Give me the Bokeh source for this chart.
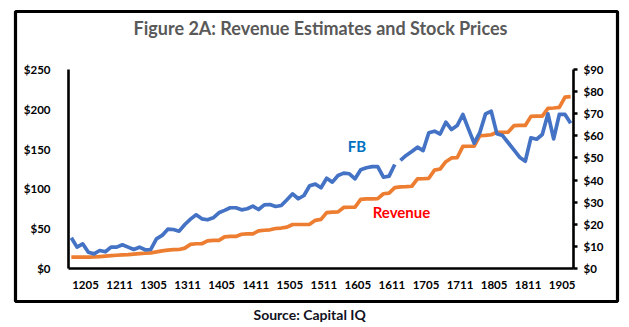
from bokeh.plotting import figure
from bokeh.models import (Range1d, LinearAxis, FixedTicker, NumeralTickFormatter,
                          Label, Title)
from bokeh.embed import file_html
from bokeh.resources import INLINE

# ---------------- data ----------------
tick_labels = ["1205", "1211", "1305", "1311", "1405", "1411", "1505", "1511",
               "1605", "1611", "1705", "1711", "1805", "1811", "1905"]

fb_price = [38.6, 26.8, 31.0, 20.5, 18.4, 22.6, 21.0, 26.8, 26.8, 29.8,
            26.8, 23.9, 26.8, 23.5, 23.9, 37.3, 41.5, 49.4, 49.0, 46.9,
            55.3, 62.0, 67.4, 62.4, 61.2, 63.7, 70.0, 73.0, 76.3, 76.3,
            73.7, 75.0, 78.3, 74.1, 80.0, 80.4, 77.9, 79.1, 86.3, 93.8,
            87.6, 91.7, 104.0, 106.0, 101.5, 113.4, 108.5, 116.8, 119.8, 119.0,
            112.7, 124.0, 126.5, 128.0, 128.0, 114.7, 116.0, 130.7, 135.7, 142.0,
            147.0, 152.4, 148.2, 170.5, 172.5, 169.0, 183.8, 174.6, 179.6, 193.5,
            175.0, 157.4, 171.0, 194.3, 197.6, 169.2, 167.0, 158.0, 149.0, 139.8,
            134.8, 164.2, 162.4, 168.3, 194.3, 162.9, 193.5, 193.5, 182.5]

revenue_est = [5.1, 5.1, 5.1, 5.1, 5.2, 5.4, 5.6, 5.8, 6.0, 6.2,
               6.3, 6.5, 6.7, 6.9, 7.1, 7.5, 8.0, 8.3, 8.5, 8.6,
               9.2, 10.9, 11.2, 11.2, 12.5, 12.7, 12.7, 14.3, 14.5, 14.5,
               15.5, 15.7, 15.7, 17.0, 17.3, 17.5, 18.1, 18.3, 18.7, 19.9,
               19.9, 19.9, 20.0, 21.8, 22.2, 25.3, 25.5, 25.6, 27.6, 27.7,
               27.8, 31.3, 31.5, 31.5, 31.6, 33.8, 34.1, 36.6, 36.9, 37.0,
               37.2, 40.5, 40.6, 40.8, 44.5, 45.0, 48.3, 50.0, 50.1, 55.2,
               55.3, 55.3, 60.1, 60.2, 60.5, 61.6, 61.6, 61.7, 64.6, 64.7,
               64.7, 68.8, 68.9, 68.9, 72.4, 72.6, 72.9, 77.5, 77.7]

fb_gap_after = 57   # the FB line is broken between these two points

# ---------------- layout constants (pixels) ----------------
W, H = 629, 327
BOX_L, BOX_R, BOX_T, BOX_B = 15, 617, 11, 301     # outer black frame
PL, PR, PT, PB = 68, 573, 69, 268                 # chart axes area
N = len(fb_price)
XD = (-0.5, N - 0.5)         # data x span over PL..PR
YLD = (0, 250)               # left axis
YRD = (0, 90)                # right axis

def lin(v, a0, a1, b0, b1):
    return b0 + (v - a0) / (a1 - a0) * (b1 - b0)

def px_x(px):
    return lin(px, PL, PR, XD[0], XD[1])

def px_yl(py):
    return lin(py, PB, PT, YLD[0], YLD[1])

def px_yr(py):
    return lin(py, PB, PT, YRD[0], YRD[1])

FONT = "Lato"

p = figure(width=W, height=H, output_backend="svg", toolbar_location=None,
           x_range=Range1d(px_x(BOX_L), px_x(BOX_R)),
           y_range=Range1d(px_yl(BOX_B), px_yl(BOX_T)),
           min_border_left=BOX_L, min_border_right=W - BOX_R,
           min_border_top=BOX_T, min_border_bottom=H - BOX_B)
p.extra_y_ranges = {"rev": Range1d(px_yr(BOX_B), px_yr(BOX_T))}
p.outline_line_color = "black"
p.outline_line_width = 3.2
p.xgrid.visible = False
p.ygrid.visible = False
p.background_fill_color = "white"
p.border_fill_color = "white"

x = list(range(N))

# revenue line (right axis)
p.line(x, revenue_est, y_range_name="rev", line_color="#ED7D31",
       line_width=3.7, line_join="round")
# FB price line (left axis), drawn in two parts (break in the series)
p.line(x[:fb_gap_after + 1], fb_price[:fb_gap_after + 1], line_color="#4472C4",
       line_width=3.7, line_join="round")
p.line(x[fb_gap_after + 1:], fb_price[fb_gap_after + 1:], line_color="#4472C4",
       line_width=3.7, line_join="round")

# axes
def style_axis(ax):
    ax.axis_line_color = "black"
    ax.axis_line_width = 2.6
    ax.major_label_text_font = FONT
    ax.major_label_text_font_style = "bold"
    ax.major_label_text_font_size = "11.5px"
    ax.major_label_text_color = "black"
    ax.minor_tick_line_color = None

xa = p.xaxis[0]
style_axis(xa)
tick_pos = [2.5 + 6 * i for i in range(len(tick_labels))]
xa.ticker = FixedTicker(ticks=tick_pos)
xa.major_label_overrides = {t: s for t, s in zip(tick_pos, tick_labels)}
xa.major_tick_line_color = None
xa.major_label_standoff = 6
xa.fixed_location = YLD[0]
xa.bounds = XD

ya = p.yaxis[0]
style_axis(ya)
ya.ticker = FixedTicker(ticks=list(range(0, 251, 50)))
ya.formatter = NumeralTickFormatter(format="$0")
ya.major_tick_line_color = None
ya.major_label_standoff = 12
ya.fixed_location = XD[0]
ya.bounds = YLD

ra = LinearAxis(y_range_name="rev")
style_axis(ra)
ra.ticker = FixedTicker(ticks=list(range(0, 91, 10)))
ra.formatter = NumeralTickFormatter(format="$0")
ra.major_tick_in = 0
ra.major_tick_out = 4
ra.major_tick_line_width = 2.6
ra.major_tick_line_color = "black"
ra.major_label_standoff = 6
ra.fixed_location = XD[1]
ra.bounds = YRD
p.add_layout(ra, "right")

# texts
p.add_layout(Label(x=px_x(320), y=px_yl(27), text="Figure 2A: Revenue Estimates and Stock Prices",
                   text_align="center", text_baseline="middle", text_font=FONT,
                   text_font_style="bold", text_font_size="18px", text_color="#595959"))
p.add_layout(Label(x=px_x(356.5), y=px_yl(145), text="FB", text_align="center",
                   text_baseline="middle", text_font=FONT, text_font_style="bold",
                   text_font_size="15px", text_color="#0070C0"))
p.add_layout(Label(x=px_x(401), y=px_yl(211), text="Revenue", text_align="center",
                   text_baseline="middle", text_font=FONT, text_font_style="bold",
                   text_font_size="15px", text_color="#FF0000"))
p.add_layout(Title(text="Source: Capital IQ", align="left", offset=253 - BOX_L,
                   text_font=FONT, text_font_style="bold", text_font_size="14px",
                   text_color="#111122", standoff=5), "below")

open("out.html", "w").write(file_html(p, INLINE))
